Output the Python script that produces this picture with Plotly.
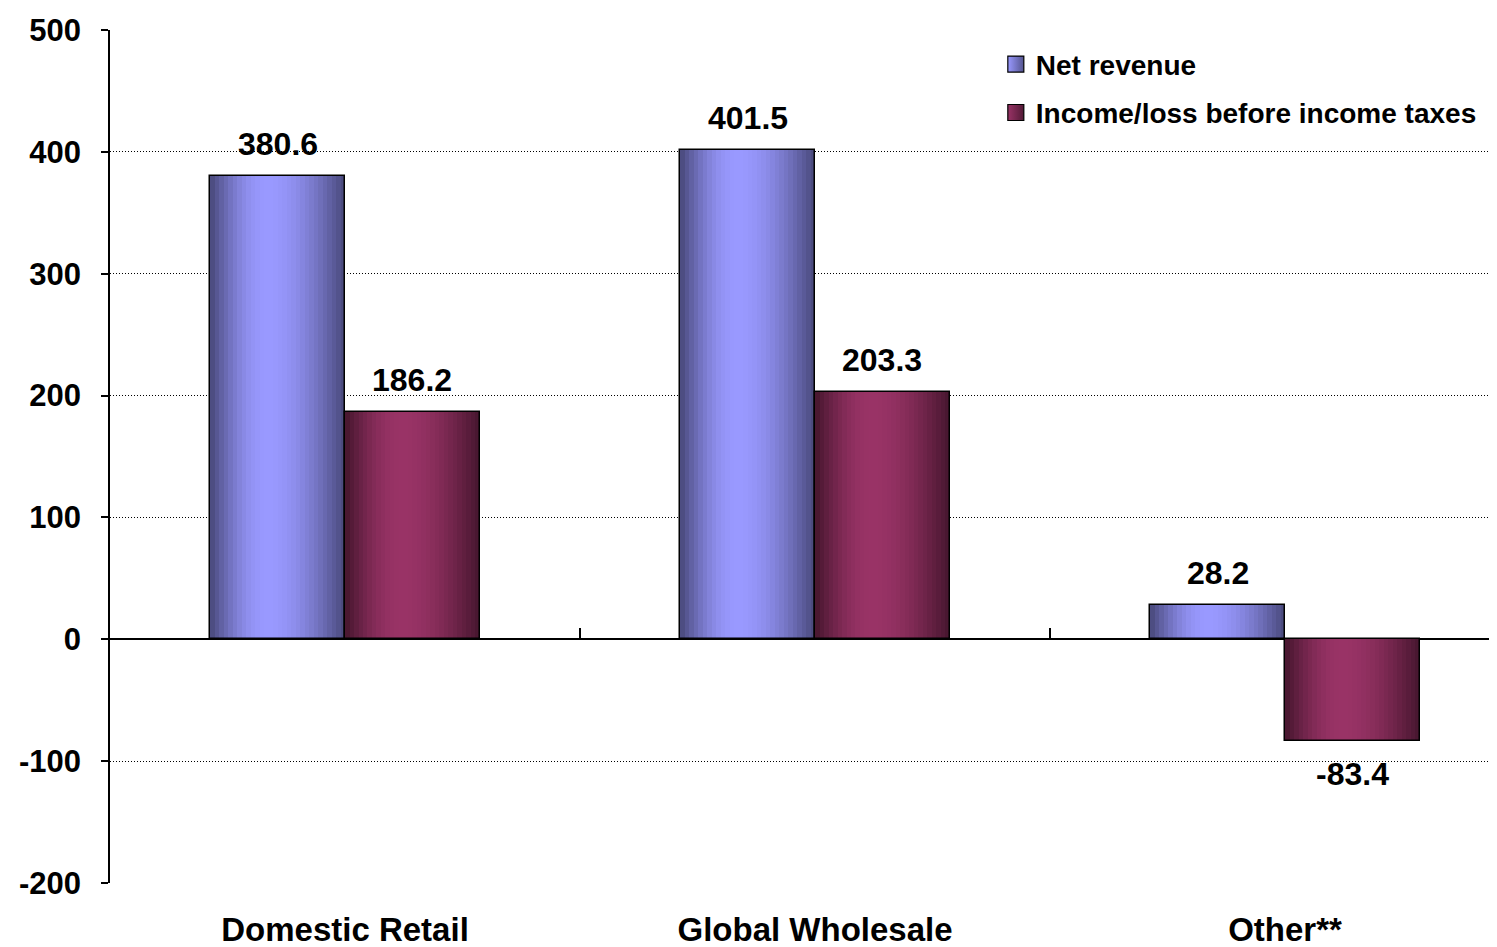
import math
import plotly.graph_objects as go

# ---- data ----
categories = ["Domestic Retail", "Global Wholesale", "Other**"]
series_names = ["Net revenue", "Income/loss before income taxes"]
net_revenue = [380.6, 401.5, 28.2]
income_before_taxes = [186.2, 203.3, -83.4]
y_tick_values = [-200, -100, 0, 100, 200, 300, 400, 500]
y_tick_labels = ["-200", "-100", "0", "100", "200", "300", "400", "500"]

# ---- style ----
FONT = "Arial, Liberation Sans, sans-serif"
X_RANGE = [-0.5, 2.468]   # the right part of the last category is cut by the frame
BAR_W = 0.287             # width of one bar in category units
N_STRIPES = 30
PLOT_W = 1395
CAT_PX = PLOT_W / (X_RANGE[1] - X_RANGE[0])
blue_center, blue_edge = (153, 153, 255), (72, 72, 122)
red_center, red_edge = (153, 51, 102), (70, 22, 46)


def shade(t, peak=0.42):
    u = t / peak if t <= peak else (1 - t) / (1 - peak)
    return math.sin(math.pi / 2 * max(0.0, min(1.0, u)))


def mix(edge, center, f):
    return "rgb(%d,%d,%d)" % tuple(round(e + (c - e) * f) for e, c in zip(edge, center))


fig = go.Figure()

series = [
    (series_names[0], net_revenue, -BAR_W, blue_edge, blue_center),
    (series_names[1], income_before_taxes, 0.0, red_edge, red_center),
]

for name, vals, off, edge, center in series:
    step = BAR_W / N_STRIPES
    for i in range(N_STRIPES):
        t = (i + 0.5) / N_STRIPES
        w = min(step * 1.6, BAR_W - i * step)
        fig.add_trace(go.Bar(
            x=categories, y=vals, offset=off + i * step, width=w,
            marker=dict(color=mix(edge, center, shade(t)), line=dict(width=0)),
            showlegend=False, hoverinfo="skip",
        ))
    fig.add_trace(go.Bar(
        x=categories, y=vals, offset=off, width=BAR_W, name=name, xaxis="x2",
        marker=dict(color="rgba(0,0,0,0)", line=dict(color="black", width=1.5)),
        showlegend=False,
    ))

# legend entries with gradient squares
for gi, (name, vals, off, edge, center) in enumerate(series):
    fig.add_trace(go.Scatter(
        x=[None], y=[None], mode="markers", name=name, legendgroup="g%d" % gi,
        marker=dict(symbol="square", size=16, color=mix(edge, center, 1.0),
                    gradient=dict(type="horizontal", color=mix(edge, center, 0.15)),
                    line=dict(color="black", width=1.2)),
    ))

# value labels
annotations = []
for name, vals, off, edge, center in series:
    for cat, v in zip(categories, vals):
        annotations.append(dict(
            x=cat, y=v, xref="x", yref="y", text=f"{v:.1f}", showarrow=False,
            xshift=(off + BAR_W / 2) * CAT_PX, yshift=32 if v >= 0 else -33,
            font=dict(family=FONT, size=32, color="black", weight="bold"),
        ))

# the page body adds a small offset, margins compensate for it
fig.update_layout(
    width=1497, height=947,
    margin=dict(l=102, r=0, t=22, b=72, autoexpand=False),
    paper_bgcolor="white", plot_bgcolor="white",
    barmode="overlay", bargap=0,
    showlegend=True,
    legend=dict(x=0.635, y=0.989, xanchor="left", yanchor="top",
                font=dict(family=FONT, size=28, color="black", weight="bold"),
                bgcolor="rgba(0,0,0,0)", tracegroupgap=9, itemwidth=30),
    annotations=annotations,
    font=dict(family=FONT, color="black"),
    # category axis sitting on the zero line: boundary tick marks only
    xaxis=dict(
        type="category", categoryarray=categories, range=X_RANGE,
        anchor="free", position=200 / 700, automargin=False,
        tickson="boundaries", ticks="inside", ticklen=11, tickwidth=1.5,
        tickcolor="black", showticklabels=False,
        showline=False, showgrid=False, zeroline=False,
    ),
    # category labels at the bottom
    xaxis2=dict(
        type="category", categoryarray=categories, range=X_RANGE,
        overlaying="x", anchor="y", side="bottom", automargin=False,
        showline=False, showgrid=False, zeroline=False,
        ticks="outside", ticklen=0, tickcolor="rgba(0,0,0,0)",
        ticklabelstandoff=17,
        tickfont=dict(family=FONT, size=33, color="black", weight="bold"),
    ),
    yaxis=dict(
        range=[-200, 500], tickvals=y_tick_values, ticktext=y_tick_labels,
        automargin=False,
        showline=True, linecolor="black", linewidth=1.5,
        ticks="outside", ticklen=7, tickwidth=1.5, tickcolor="black",
        ticklabelstandoff=14,
        showgrid=True, gridcolor="black", gridwidth=1, griddash="1px,2px",
        zeroline=True, zerolinecolor="black", zerolinewidth=1.5,
        tickfont=dict(family=FONT, size=31, color="black", weight="bold"),
    ),
)

fig.write_html("out.html")
